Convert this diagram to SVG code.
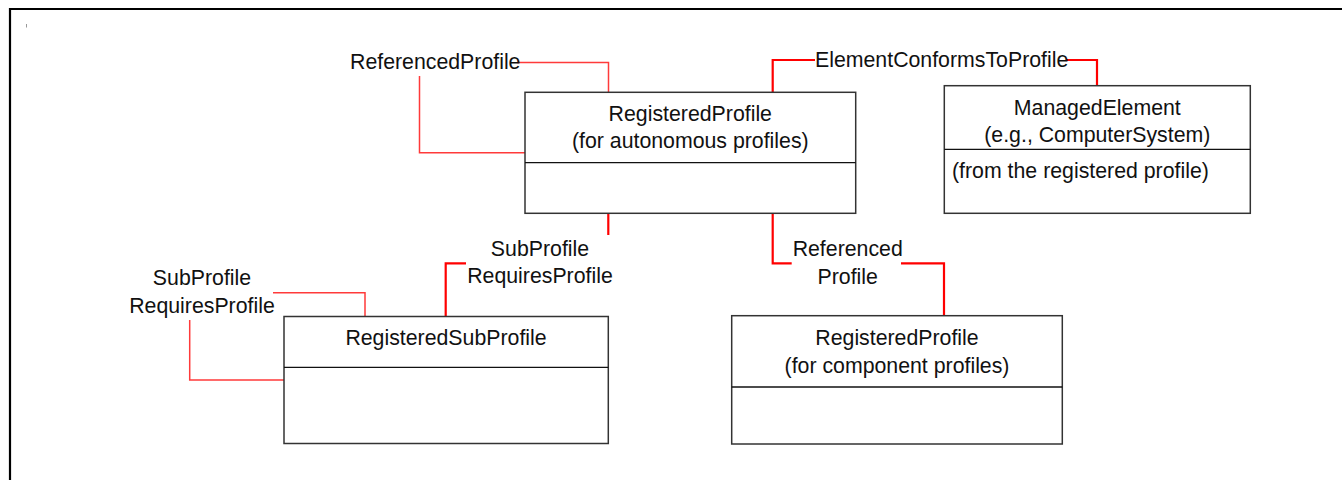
<svg xmlns="http://www.w3.org/2000/svg" width="1342" height="480" viewBox="0 0 1342 480">
<style>
  text { font-family: "Liberation Sans", Arial, sans-serif; font-size: 21.3px; fill: #111; }
  .c { text-anchor: middle; }
  .box { fill: #fff; stroke: #333; stroke-width: 1.5; }
  .div { stroke: #111; stroke-width: 1.3; }
  .thick { fill: none; stroke: #ff0000; stroke-width: 2.2; }
  .thin { fill: none; stroke: #ff3a3a; stroke-width: 1.5; }
</style>
<rect x="0" y="0" width="1342" height="480" fill="#fff"/>
<path d="M10 480 V9 H1342" fill="none" stroke="#000" stroke-width="2.2"/>
<line x1="26.5" y1="24" x2="26.5" y2="27.5" stroke="#999" stroke-width="1"/>

<g id="connectors">
  <!-- ReferencedProfile (top, reflexive) -->
  <polyline class="thin" points="517,62.5 608.5,62.5 608.5,92.5"/>
  <polyline class="thin" points="419.5,76 419.5,152.7 525,152.7"/>
  <text x="350" y="69">ReferencedProfile</text>
  <!-- ElementConformsToProfile -->
  <polyline class="thick" points="772.7,92.5 772.7,60 815,60"/>
  <polyline class="thick" points="1067,60 1097,60 1097,85.7"/>
  <text x="815" y="67">ElementConformsToProfile</text>
  <!-- SubProfileRequiresProfile (center) -->
  <polyline class="thick" points="608.3,213.3 608.3,235"/>
  <polyline class="thick" points="466,263.3 445.7,263.3 445.7,316.5"/>
  <text class="c" x="540" y="256">SubProfile</text>
  <text class="c" x="540" y="283">RequiresProfile</text>
  <!-- Referenced Profile (bottom) -->
  <polyline class="thick" points="772.7,213.3 772.7,263.3 791.7,263.3"/>
  <polyline class="thick" points="901,263.3 944,263.3 944,316"/>
  <text class="c" x="847.7" y="256">Referenced</text>
  <text class="c" x="847.7" y="283.5">Profile</text>
  <!-- SubProfileRequiresProfile (left, reflexive) -->
  <polyline class="thin" points="273,292.7 365,292.7 365,316.5"/>
  <polyline class="thin" points="189.7,320 189.7,380 284,380"/>
  <text class="c" x="202" y="285">SubProfile</text>
  <text class="c" x="202" y="312.7">RequiresProfile</text>
</g>

<g id="autonomous">
  <rect class="box" x="525" y="92.3" width="330.7" height="121"/>
  <line class="div" x1="525" y1="162.7" x2="855.7" y2="162.7"/>
  <text class="c" x="690.3" y="120.7">RegisteredProfile</text>
  <text class="c" x="690.3" y="148.3">(for autonomous profiles)</text>
</g>

<g id="managed">
  <rect class="box" x="944.3" y="85.7" width="306" height="127.6"/>
  <line class="div" x1="944.3" y1="149.3" x2="1250.3" y2="149.3"/>
  <text class="c" x="1097.3" y="115">ManagedElement</text>
  <text class="c" x="1097.3" y="142">(e.g., ComputerSystem)</text>
  <text x="952" y="178.3">(from the registered profile)</text>
</g>

<g id="subprofile">
  <rect class="box" x="284" y="316.5" width="324.3" height="127"/>
  <line class="div" x1="284" y1="367.3" x2="608.3" y2="367.3"/>
  <text class="c" x="446" y="345">RegisteredSubProfile</text>
</g>

<g id="component">
  <rect class="box" x="731.7" y="315.7" width="330.6" height="128.3"/>
  <line class="div" x1="731.7" y1="387" x2="1062.3" y2="387"/>
  <text class="c" x="897" y="344.5">RegisteredProfile</text>
  <text class="c" x="897" y="372.7">(for component profiles)</text>
</g>
</svg>
